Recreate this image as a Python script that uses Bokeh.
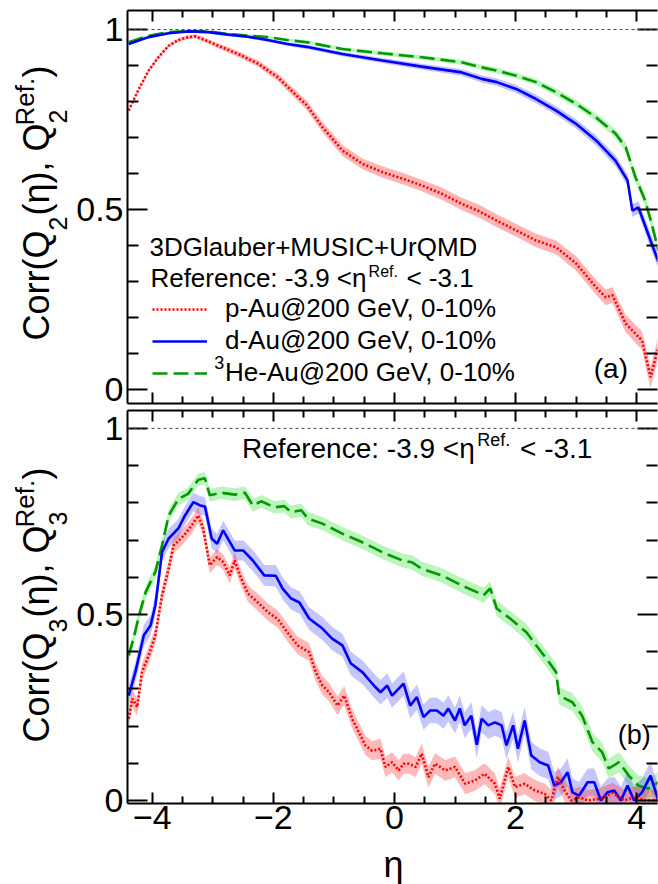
import math
from bokeh.plotting import figure
from bokeh.layouts import column, row
from bokeh.models import (Range1d, FixedTicker, LinearAxis, Label, Span,
                          Legend, LegendItem)
from bokeh.core.properties import value
from bokeh.embed import file_html
from bokeh.resources import INLINE

FONT = "Liberation Sans"

# ---------------- data ----------------
XTICKS = [-4, -2, 0, 2, 4]
XTICK_LABELS = ["\u22124", "\u22122", "0", "2", "4"]
YTICKS = [0, 0.5, 1]
YTICK_LABELS = ["0", "0.5", "1"]

LEGEND_LABELS = ["p-Au@200 GeV, 0-10%", "d-Au@200 GeV, 0-10%", "He-Au@200 GeV, 0-10%"]

# panel (a): Corr(Q2(eta), Q2^Ref)
a_pau_eta = [-4.39, -4.22, -4.06, -3.90, -3.73, -3.57, -3.41, -3.29, -3.13, -2.91,
             -2.58, -2.25, -1.93, -1.65, -1.45, -1.19, -0.86, -0.53, -0.20, 0.13,
             0.45, 0.78, 1.11, 1.40, 1.69, 2.01, 2.34, 2.67, 3.00, 3.33,
             3.49, 3.60, 3.82, 4.09, 4.23, 4.36]
a_pau_val = [0.775, 0.836, 0.886, 0.923, 0.955, 0.971, 0.979, 0.981, 0.971, 0.955,
             0.932, 0.905, 0.868, 0.822, 0.790, 0.729, 0.664, 0.627, 0.604, 0.586,
             0.567, 0.544, 0.516, 0.495, 0.469, 0.442, 0.414, 0.395, 0.350, 0.284,
             0.256, 0.262, 0.183, 0.136, 0.034, 0.118]
a_pau_err = [0.004, 0.004, 0.004, 0.005, 0.005, 0.005, 0.005, 0.006, 0.006, 0.007,
             0.008, 0.009, 0.010, 0.012, 0.013, 0.014, 0.015, 0.015, 0.016, 0.016,
             0.016, 0.017, 0.017, 0.018, 0.018, 0.018, 0.019, 0.019, 0.020, 0.021,
             0.022, 0.022, 0.024, 0.026, 0.030, 0.030]

a_dau_eta = [-4.39, -4.06, -3.73, -3.41, -3.08, -2.75, -2.42, -2.10, -1.77, -1.45,
             -0.86, -0.20, 0.45, 1.11, 1.44, 1.69, 2.01, 2.34, 2.67, 3.00,
             3.33, 3.65, 3.85, 3.93, 4.03, 4.23, 4.36]
a_dau_val = [0.960, 0.979, 0.990, 0.995, 0.993, 0.986, 0.980, 0.971, 0.960, 0.952,
             0.932, 0.914, 0.897, 0.881, 0.863, 0.854, 0.835, 0.807, 0.775, 0.738,
             0.692, 0.636, 0.581, 0.497, 0.506, 0.414, 0.355]
a_dau_err = [0.003, 0.003, 0.003, 0.003, 0.003, 0.004, 0.004, 0.005, 0.005, 0.006,
             0.006, 0.007, 0.008, 0.009, 0.010, 0.010, 0.011, 0.012, 0.012, 0.013,
             0.014, 0.015, 0.016, 0.017, 0.018, 0.020, 0.020]

a_heau_eta = [-4.39, -4.06, -3.73, -3.41, -3.08, -2.75, -2.42, -2.10, -1.77, -1.45,
              -0.86, -0.20, 0.45, 1.11, 1.44, 1.69, 2.01, 2.34, 2.67, 3.00,
              3.33, 3.65, 3.82, 3.98, 4.14, 4.25, 4.36]
a_heau_val = [0.965, 0.983, 0.993, 0.996, 0.995, 0.988, 0.983, 0.979, 0.971, 0.965,
              0.946, 0.934, 0.923, 0.909, 0.895, 0.886, 0.872, 0.854, 0.826, 0.794,
              0.756, 0.711, 0.673, 0.590, 0.525, 0.460, 0.385]
a_heau_err = [0.003, 0.003, 0.003, 0.003, 0.003, 0.003, 0.004, 0.004, 0.004, 0.005,
              0.005, 0.006, 0.006, 0.007, 0.007, 0.008, 0.008, 0.009, 0.010, 0.010,
              0.011, 0.012, 0.013, 0.014, 0.015, 0.016, 0.017]

# panel (b): Corr(Q3(eta), Q3^Ref)
b_pau_eta = [-4.39, -4.33, -4.25, -4.17, -4.06, -3.95, -3.84, -3.73, -3.65, -3.48,
             -3.35, -3.24, -3.16, -3.05, -2.93, -2.83, -2.72, -2.64, -2.53, -2.42,
             -2.26, -2.09, -1.93, -1.77, -1.60, -1.41, -1.30, -1.19, -1.08, -0.94,
             -0.83, -0.70, -0.59, -0.48, -0.37, -0.23, -0.15, -0.04, 0.07, 0.15,
             0.24, 0.35, 0.45, 0.56, 0.67, 0.84, 1.00, 1.17, 1.33, 1.49,
             1.66, 1.74, 1.88, 1.99, 2.15, 2.32, 2.48, 2.59, 2.70, 2.81,
             2.92, 3.06, 3.19, 3.40, 3.60, 3.80, 3.98, 4.15, 4.36]
b_pau_val = [0.220, 0.274, 0.251, 0.345, 0.390, 0.444, 0.551, 0.623, 0.685, 0.712,
             0.739, 0.766, 0.731, 0.632, 0.654, 0.641, 0.605, 0.645, 0.596, 0.556,
             0.533, 0.506, 0.488, 0.452, 0.417, 0.399, 0.345, 0.309, 0.291, 0.255,
             0.282, 0.220, 0.184, 0.148, 0.134, 0.139, 0.090, 0.103, 0.081, 0.099,
             0.099, 0.090, 0.126, 0.063, 0.099, 0.081, 0.090, 0.045, 0.054, 0.072,
             0.045, 0.005, 0.090, 0.036, 0.045, 0.027, 0.018, 0.000, 0.063, 0.027,
             0.000, 0.009, 0.000, 0.005, 0.020, 0.000, 0.010, 0.000, 0.000]
b_pau_err = [0.024, 0.024, 0.024, 0.024, 0.023, 0.023, 0.022, 0.022, 0.021, 0.021,
             0.021, 0.021, 0.021, 0.021, 0.021, 0.021, 0.022, 0.022, 0.022, 0.022,
             0.023, 0.023, 0.023, 0.024, 0.024, 0.024, 0.025, 0.025, 0.025, 0.025,
             0.026, 0.026, 0.026, 0.026, 0.026, 0.027, 0.027, 0.027, 0.027, 0.027,
             0.027, 0.027, 0.028, 0.028, 0.028, 0.028, 0.028, 0.028, 0.028, 0.028,
             0.028, 0.028, 0.028, 0.028, 0.028, 0.028, 0.028, 0.028, 0.028, 0.028,
             0.028, 0.028, 0.028, 0.028, 0.028, 0.028, 0.028, 0.028, 0.028]

b_dau_eta = [-4.39, -4.28, -4.14, -4.03, -3.95, -3.84, -3.73, -3.57, -3.46, -3.32,
             -3.21, -3.13, -3.02, -2.93, -2.83, -2.64, -2.50, -2.34, -2.15, -1.96,
             -1.85, -1.71, -1.57, -1.41, -1.19, -1.03, -0.86, -0.72, -0.53, -0.34,
             -0.23, -0.12, -0.04, 0.15, 0.26, 0.37, 0.48, 0.59, 0.70, 0.81,
             0.89, 1.00, 1.08, 1.16, 1.27, 1.36, 1.44, 1.55, 1.66, 1.77,
             1.85, 1.96, 2.04, 2.15, 2.26, 2.40, 2.54, 2.64, 2.75, 2.86,
             2.94, 3.05, 3.19, 3.30, 3.41, 3.52, 3.63, 3.74, 3.85, 3.96,
             4.09, 4.23, 4.36]
b_dau_val = [0.282, 0.345, 0.444, 0.470, 0.524, 0.667, 0.704, 0.731, 0.766, 0.802,
             0.793, 0.790, 0.704, 0.690, 0.726, 0.672, 0.672, 0.645, 0.605, 0.604,
             0.570, 0.543, 0.532, 0.489, 0.462, 0.435, 0.417, 0.368, 0.345, 0.309,
             0.291, 0.309, 0.282, 0.314, 0.255, 0.278, 0.224, 0.242, 0.242, 0.228,
             0.247, 0.215, 0.247, 0.202, 0.228, 0.150, 0.220, 0.202, 0.210, 0.202,
             0.148, 0.202, 0.139, 0.215, 0.121, 0.103, 0.094, 0.040, 0.049, 0.076,
             0.022, 0.013, 0.049, 0.049, 0.000, 0.022, 0.027, 0.000, 0.040, 0.000,
             0.022, 0.067, 0.000]
b_dau_err = [0.028, 0.028, 0.028, 0.027, 0.027, 0.026, 0.026, 0.025, 0.025, 0.025,
             0.025, 0.025, 0.026, 0.026, 0.026, 0.027, 0.027, 0.028, 0.028, 0.029,
             0.029, 0.030, 0.030, 0.030, 0.031, 0.031, 0.031, 0.032, 0.032, 0.032,
             0.033, 0.033, 0.033, 0.033, 0.034, 0.034, 0.034, 0.034, 0.035, 0.035,
             0.035, 0.035, 0.035, 0.035, 0.036, 0.036, 0.036, 0.036, 0.036, 0.036,
             0.037, 0.037, 0.037, 0.037, 0.037, 0.037, 0.037, 0.037, 0.037, 0.037,
             0.037, 0.037, 0.037, 0.037, 0.037, 0.037, 0.037, 0.037, 0.037, 0.037,
             0.037, 0.037, 0.037]

b_heau_eta = [-4.39, -4.31, -4.22, -4.11, -3.95, -3.84, -3.73, -3.57, -3.41, -3.24,
              -3.13, -3.05, -2.86, -2.64, -2.47, -2.34, -2.20, -1.98, -1.82, -1.71,
              -1.54, -1.43, -1.19, -0.86, -0.53, -0.20, 0.13, 0.29, 0.45, 0.78,
              1.11, 1.36, 1.47, 1.58, 1.69, 1.91, 2.18, 2.34, 2.51, 2.67,
              2.72, 2.94, 3.10, 3.27, 3.43, 3.54, 3.71, 3.87, 4.03, 4.19, 4.36]
b_heau_val = [0.390, 0.435, 0.497, 0.560, 0.614, 0.685, 0.766, 0.810, 0.824, 0.862,
              0.866, 0.820, 0.827, 0.822, 0.827, 0.793, 0.804, 0.788, 0.791, 0.775,
              0.780, 0.758, 0.744, 0.717, 0.694, 0.667, 0.645, 0.640, 0.623, 0.605,
              0.578, 0.560, 0.551, 0.570, 0.516, 0.489, 0.452, 0.417, 0.381, 0.345,
              0.282, 0.264, 0.228, 0.157, 0.130, 0.086, 0.103, 0.067, 0.040, 0.032, 0.049]
b_heau_err = [0.018, 0.018, 0.018, 0.018, 0.018, 0.018, 0.017, 0.017, 0.017, 0.017,
              0.017, 0.017, 0.017, 0.017, 0.017, 0.017, 0.017, 0.017, 0.017, 0.017,
              0.018, 0.018, 0.018, 0.018, 0.018, 0.018, 0.019, 0.019, 0.019, 0.019,
              0.020, 0.020, 0.020, 0.020, 0.021, 0.021, 0.022, 0.022, 0.023, 0.023,
              0.024, 0.024, 0.025, 0.025, 0.026, 0.026, 0.027, 0.027, 0.028, 0.028, 0.028]

for e, v, s in [(a_pau_eta, a_pau_val, a_pau_err), (a_dau_eta, a_dau_val, a_dau_err),
                (a_heau_eta, a_heau_val, a_heau_err), (b_pau_eta, b_pau_val, b_pau_err),
                (b_dau_eta, b_dau_val, b_dau_err), (b_heau_eta, b_heau_val, b_heau_err)]:
    assert len(e) == len(v) == len(s), (len(e), len(v), len(s))

# ---------------- layout constants (page pixels; page origin is top-left) ----------------
PAGE_W, PAGE_H = 658, 884
LEFT_W = 73                      # strip holding the rotated y titles
X_RANGE = (-4.41, 4.345)
A_Y_RANGE = (-0.039, 1.053)
B_Y_RANGE = (-0.008, 1.048)
FRAME_LEFT_PAGE = 125
FRAME_W = 532
FRAME_H = 393
A_FRAME_TOP_PAGE = 10
B_FRAME_TOP_PAGE = 410
A_H = 408                        # 10 + 393 + 5
B_H = 435                        # 2 + 393 + 40
ETA_H = PAGE_H - A_H - B_H       # 41
PLOT_W = PAGE_W - LEFT_W         # 585
B_LEFT = FRAME_LEFT_PAGE - LEFT_W
B_RIGHT = PLOT_W - B_LEFT - FRAME_W
TICK_FONT = "34px"
BASE_SHIFT = 0.33                # label anchor sits this many em above the drawn baseline

X_MINOR = [k * 0.5 for k in range(-8, 9) if k % 4 != 0]
Y_MINOR = [k / 10 for k in range(0, 11) if k % 5 != 0]

RED, BLUE, GREEN = "#ff0000", "#0000ff", "#009a00"
RED_BAND, BLUE_BAND, GREEN_BAND = "#ff2a2a", "#3030ff", "#22dd22"


def fx(px):
    return X_RANGE[0] + (px - FRAME_LEFT_PAGE) * (X_RANGE[1] - X_RANGE[0]) / FRAME_W


def make_fy(frame_top, yr):
    return lambda py: yr[1] - (py - frame_top) * (yr[1] - yr[0]) / FRAME_H


def ident(v):
    return v


def tick_only_axis(major_pos, length, line_on):
    ax = LinearAxis(ticker=FixedTicker(ticks=[], minor_ticks=major_pos),
                    minor_tick_in=length, minor_tick_out=0, minor_tick_line_width=2,
                    major_tick_in=0, major_tick_out=0,
                    axis_line_width=2,
                    axis_line_color="black" if line_on else None)
    return ax


def add_axes(p, bottom_labels):
    lab = dict(axis_line_width=2, axis_line_color="black",
               major_tick_line_width=2, minor_tick_line_width=2,
               major_tick_out=0, minor_tick_out=0,
               major_label_text_font=FONT, major_label_text_color="black",
               major_label_text_font_size=TICK_FONT)
    yover = {t: l for t, l in zip(YTICKS, YTICK_LABELS)}
    xover = {t: l for t, l in zip(XTICKS, XTICK_LABELS)}

    left = LinearAxis(ticker=FixedTicker(ticks=YTICKS, minor_ticks=Y_MINOR),
                      major_tick_in=20, minor_tick_in=11,
                      major_label_overrides=yover, major_label_standoff=4, **lab)
    p.add_layout(left, "left")
    # mirrored ticks on the right (frame edge lies just outside the picture)
    p.add_layout(tick_only_axis(YTICKS, 20, False), "right")
    p.add_layout(tick_only_axis(Y_MINOR, 11, False), "right")
    # ticks on top
    p.add_layout(tick_only_axis(XTICKS, 11, True), "above")
    p.add_layout(tick_only_axis(X_MINOR, 7, False), "above")
    if bottom_labels:
        bottom = LinearAxis(ticker=FixedTicker(ticks=XTICKS, minor_ticks=X_MINOR),
                            major_tick_in=11, minor_tick_in=7,
                            major_label_overrides=xover, major_label_standoff=2, **lab)
        p.add_layout(bottom, "below")
    else:
        p.add_layout(tick_only_axis(XTICKS, 11, True), "below")
        p.add_layout(tick_only_axis(X_MINOR, 7, False), "below")


def base_fig(w, h, xr, yr, bl, br, bt, bb):
    p = figure(width=w, height=h, x_range=Range1d(*xr), y_range=Range1d(*yr),
               output_backend="svg", toolbar_location=None, title=None,
               x_axis_location=None, y_axis_location=None,
               min_border_left=bl, min_border_right=br,
               min_border_top=bt, min_border_bottom=bb)
    p.outline_line_color = None
    p.grid.visible = False
    p.background_fill_color = "white"
    p.border_fill_color = "white"
    return p


def make_fig(height, yr, b_top, b_bottom, bottom_labels):
    p = base_fig(PLOT_W, height, X_RANGE, yr, B_LEFT, B_RIGHT, b_top, b_bottom)
    add_axes(p, bottom_labels)
    p.add_layout(Span(location=1, dimension="width", line_color="#444444",
                      line_dash="3 3", line_width=1))
    return p


def draw_series(p, series):
    rends = []
    for eta, val, err, col, band, alpha, dash in series:
        lo = [v - e for v, e in zip(val, err)]
        hi = [v + e for v, e in zip(val, err)]
        p.varea(x=eta, y1=lo, y2=hi, fill_color=band, fill_alpha=alpha)
    for eta, val, err, col, band, alpha, dash in series:
        r = p.line(eta, val, line_color=col, line_width=2.6, line_dash=dash)
        rends.append(r)
    return rends


def htext(p, mapx, mapy, px, base_py, text, size, align="left"):
    """horizontal text whose baseline should land on page row base_py"""
    p.add_layout(Label(x=mapx(px), y=mapy(base_py - BASE_SHIFT * size), text=text,
                       text_font=FONT, text_font_size=f"{size}px", text_align=align,
                       text_baseline="alphabetic", text_color="black"))


def vtext(p, base_px, start_py, text, size):
    """text reading upwards whose baseline should land on page column base_px"""
    p.add_layout(Label(x=base_px - BASE_SHIFT * size, y=start_py, text=text,
                       text_font=FONT, text_font_size=f"{size}px", text_align="left",
                       text_baseline="alphabetic", angle=math.pi / 2, text_color="black"))


# ---------------- left strip with the y titles (page coordinates) ----------------
ylab = base_fig(LEFT_W, PAGE_H, (0, LEFT_W), (PAGE_H, 0), 0, 0, 0, 0)


def add_ytitle(y0, n):
    vtext(ylab, 48, y0, "Corr(Q", 36)
    vtext(ylab, 66, y0 - 110, n, 25)
    vtext(ylab, 48, y0 - 125, "(\u03b7), Q", 36)
    vtext(ylab, 66, y0 - 217, n, 25)
    vtext(ylab, 33, y0 - 215, "Ref.", 26)
    vtext(ylab, 48, y0 - 263, ")", 36)


add_ytitle(340, "2")
add_ytitle(742, "3")

# ---------------- panel (a) ----------------
fya = make_fy(A_FRAME_TOP_PAGE, A_Y_RANGE)
p1 = make_fig(A_H, A_Y_RANGE, 10, 5, False)
ra = draw_series(p1, [
    (a_heau_eta, a_heau_val, a_heau_err, GREEN, GREEN_BAND, 0.30, "15 6"),
    (a_dau_eta, a_dau_val, a_dau_err, BLUE, BLUE_BAND, 0.30, "solid"),
    (a_pau_eta, a_pau_val, a_pau_err, RED, RED_BAND, 0.35, "2 2"),
])
legend = Legend(items=[LegendItem(label=value(LEGEND_LABELS[0]), renderers=[ra[2]]),
                       LegendItem(label=value(LEGEND_LABELS[1]), renderers=[ra[1]]),
                       LegendItem(label=value(LEGEND_LABELS[2]), renderers=[ra[0]])],
                location=(25, 15), orientation="vertical", padding=0, margin=0,
                spacing=1, glyph_width=55, glyph_height=20, label_standoff=18,
                label_height=20, label_text_font=FONT, label_text_font_size="26px",
                label_text_color="black",
                border_line_color=None, background_fill_alpha=0)
p1.add_layout(legend)
htext(p1, fx, fya, 212, 368, "3", 18)
htext(p1, fx, fya, 147, 255, "3DGlauber+MUSIC+UrQMD", 26)
htext(p1, fx, fya, 148, 286, "Reference: -3.9 <\u03b7", 26)
htext(p1, fx, fya, 367, 276, "Ref.", 16)
htext(p1, fx, fya, 405, 286, "< -3.1", 26)
htext(p1, fx, fya, 593, 377, "(a)", 28)

# ---------------- panel (b) ----------------
fyb = make_fy(B_FRAME_TOP_PAGE, B_Y_RANGE)
p2 = make_fig(B_H, B_Y_RANGE, 2, 40, True)
draw_series(p2, [
    (b_heau_eta, b_heau_val, b_heau_err, GREEN, GREEN_BAND, 0.30, "15 6"),
    (b_dau_eta, b_dau_val, b_dau_err, BLUE, BLUE_BAND, 0.28, "solid"),
    (b_pau_eta, b_pau_val, b_pau_err, RED, RED_BAND, 0.33, "2 2"),
])
htext(p2, fx, fyb, 240, 457, "Reference: -3.9 <\u03b7", 28)
htext(p2, fx, fyb, 476, 445, "Ref.", 18)
htext(p2, fx, fyb, 519, 457, "< -3.1", 28)
htext(p2, fx, fyb, 617, 743, "(b)", 27)

# ---------------- strip with the x title: same x scale as the panels ----------------
xlab = base_fig(PLOT_W, ETA_H, X_RANGE, (PAGE_H, PAGE_H - ETA_H), B_LEFT, B_RIGHT, 0, 0)
htext(xlab, fx, ident, 392, 876, "\u03b7", 36, align="center")

layout = row(ylab, column(p1, p2, xlab))
open("out.html", "w").write(file_html(layout, INLINE, "Corr"))
